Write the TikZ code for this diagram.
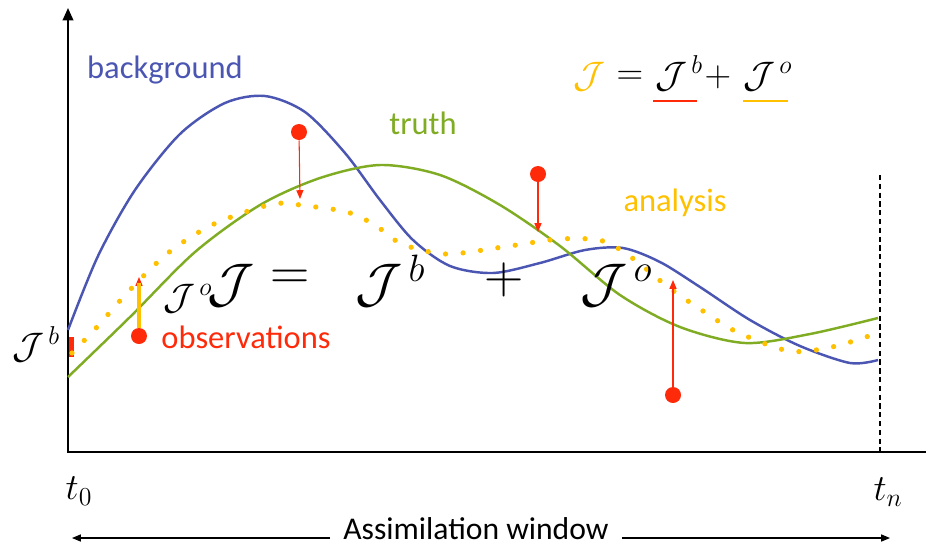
\RequirePackage{fix-cm}
\documentclass[tikz,border=0pt]{standalone}
\usepackage[no-math]{fontspec}
\setmainfont{Carlito}
\usetikzlibrary{arrows.meta}
\definecolor{DABlue}{HTML}{4B56B2}
\definecolor{DAGreen}{HTML}{80AC24}
\definecolor{DAOrange}{HTML}{FFC000}
\definecolor{DARed}{HTML}{FF2A0A}
\begin{document}
\begin{tikzpicture}[x=0.02cm,y=-0.02cm,
  curve/.style={line width=1.4pt},
  tag/.style={font=\fontsize{18.5}{22}\selectfont,inner sep=0pt},
  bigmath/.style={font=\fontsize{31}{36}\selectfont,inner sep=0pt},
  midmath/.style={font=\fontsize{21}{25}\selectfont,inner sep=0pt},
  obsdot/.style={circle,fill=DARed,inner sep=0pt,minimum size=0.32cm},
  obsarrow/.style={DARed,line width=0.6pt,-{Triangle[length=5pt,width=4pt]}},
  winarrow/.style={line width=0.6pt,-{Triangle[length=5pt,width=4pt]}}]
\path[use as bounding box] (0,0) rectangle (926,545);
\draw[line width=1.1pt,-{Triangle[length=7pt,width=6pt]}] (926,452) -- (68,452) -- (68,8);
\draw[line width=0.6pt,dash pattern=on 3pt off 2pt] (880,175) -- (880,452);
\fill[DARed] (69,337) rectangle (74,357);
\draw[curve,DABlue] plot[smooth] coordinates {(68,330) (98,256) (135,190) (180,134) (225,103) (265,96) (305,112) (345,153) (380,200) (413,240) (450,266) (493,273) (540,263) (585,250) (623,248) (660,262) (700,287) (750,320) (800,346) (850,363) (878,360)};
\draw[curve,DAGreen] plot[smooth] coordinates {(68,377) (130,317) (195,252) (260,205) (320,178) (380,165) (440,175) (500,205) (560,246) (620,295) (680,327) (745,343) (810,334) (878,318)};
\draw[DAOrange,line width=3pt,line cap=round,dash pattern=on 0pt off 10pt] plot[smooth] coordinates {(72,353) (97,327) (128,292) (168,253) (214,224) (273,204) (307,206) (347,212) (375,225) (402,244) (446,254) (503,247) (560,239) (603,241) (635,260) (668,287) (703,311) (737,332) (789,351) (832,347) (878,333)};
\node[obsdot] (obsA) at (139,336) {};
\node[obsdot] (obsB) at (299,132) {};
\node[obsdot] (obsC) at (538,174) {};
\node[obsdot] (obsD) at (673,395) {};
\coordinate (anaA) at (139,277);
\coordinate (tipA) at (139,283);
\coordinate (anaB) at (300,199);
\coordinate (anaC) at (538,232);
\coordinate (anaD) at (673,280);
\draw[obsarrow] (obsA) -- (anaA);
\draw[DAOrange,line width=2.3pt] (obsA) -- (tipA);
\draw[obsarrow] (obsB) -- (anaB);
\draw[obsarrow] (obsC) -- (anaC);
\draw[obsarrow] (obsD) -- (anaD);
\node[tag,text=DABlue] (bgLabel) at (165,70) {background};
\node[tag,text=DAGreen] (truthLabel) at (423,123) {truth};
\node[tag,text=DAOrange] (anaLabel) at (675,203) {analysis};
\node[tag,text=DARed] (obsLabel) at (246,337) {observations};
\node[midmath,anchor=base west] (JbLeft) at (12,358) {$\mathcal{J}^{\,b}$};
\node[midmath,anchor=base west] (JoSmall) at (163,309) {$\mathcal{J}^{\,o}$};
\node[bigmath,anchor=base west] (JBig) at (207,301) {$\mathcal{J}$};
\node[bigmath] (eqBig) at (290,280) {$=$};
\node[bigmath,anchor=base west] (JbBig) at (355,301) {$\mathcal{J}^{\,b}$};
\node[bigmath] (plusBig) at (504,280) {$+$};
\node[bigmath,anchor=base west] (JoBig) at (580,301) {$\mathcal{J}^{\,o}$};
\node[midmath,anchor=base west,text=DAOrange] (JTop) at (573,87) {$\mathcal{J}$};
\node[midmath] (eqTop) at (630,78) {$=$};
\node[midmath,anchor=base west] (JbTop) at (655,87) {$\mathcal{J}^{\,b}$};
\node[midmath] (plusTop) at (718,77) {$+$};
\node[midmath,anchor=base west] (JoTop) at (743,87) {$\mathcal{J}^{\,o}$};
\draw[DARed,line width=1.7pt] (653,101) -- (697,101);
\draw[DAOrange,line width=1.7pt] (743,101) -- (788,101);
\node[midmath] (tZero) at (79,491) {$t_0$};
\node[midmath] (tEnd) at (888,492) {$t_n$};
\node[font=\fontsize{18}{22}\selectfont,inner xsep=0.26cm,inner ysep=0pt,anchor=base] (winLabel) at (476,539) {Assimilation window};
\coordinate (winL) at (72,538);
\coordinate (winR) at (890,538);
\draw[winarrow] (winLabel.west |- winL) -- (winL);
\draw[winarrow] (winLabel.east |- winR) -- (winR);
\end{tikzpicture}
\end{document}
